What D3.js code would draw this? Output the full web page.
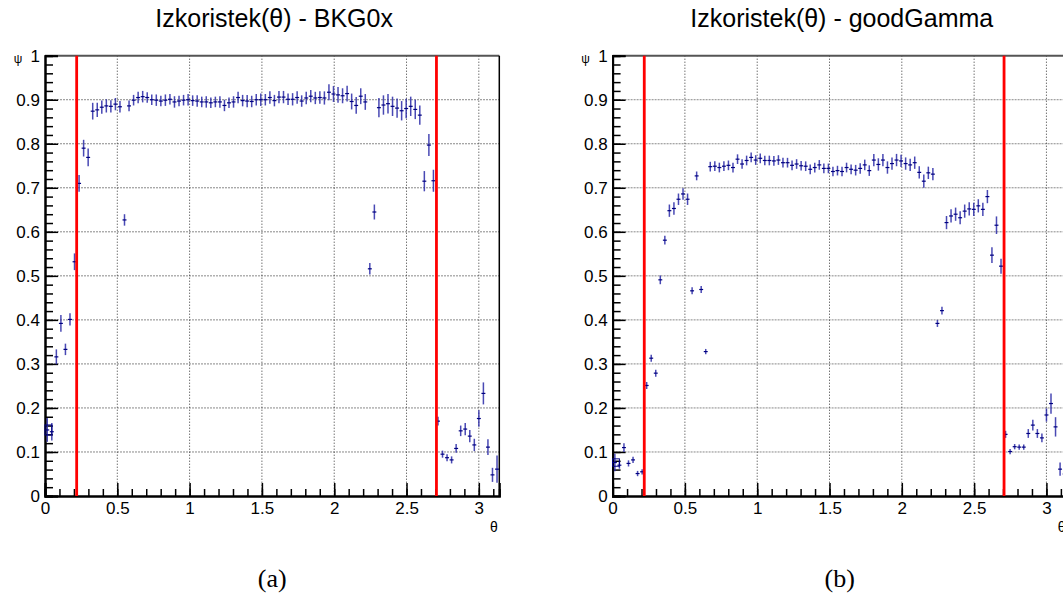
<head>
  <script src="https://d3js.org/d3.v7.min.js"></script>
  <style>
    body { margin: 0; background: #fff; }
    text { font-family: "Liberation Sans", Arial, sans-serif; }
  </style>
</head>
<body>
<script>
const nBins = 100;
const cutLines = [0.219, 2.707];
const xTickLabels = ['0', '0.5', '1', '1.5', '2', '2.5', '3'];
const xTickValues = [0, 0.5, 1, 1.5, 2, 2.5, 3];
const yTickLabels = ['0', '0.1', '0.2', '0.3', '0.4', '0.5', '0.6', '0.7', '0.8', '0.9', '1'];
const yTickValues = [0, 0.1, 0.2, 0.3, 0.4, 0.5, 0.6, 0.7, 0.8, 0.9, 1];
const titles = ['Izkoristek(\u03b8) - BKG0x', 'Izkoristek(\u03b8) - goodGamma'];
const captions = ['(a)', '(b)'];

const bkgVals = [0.150, 0.146, 0.316, 0.392, 0.333, 0.401, 0.532, 0.710, 0.790, 0.769,
  0.874, 0.877, 0.883, 0.886, 0.885, 0.890, 0.884, 0.627, 0.886, 0.899,
  0.905, 0.907, 0.905, 0.900, 0.899, 0.897, 0.899, 0.901, 0.895, 0.897,
  0.899, 0.900, 0.898, 0.897, 0.895, 0.895, 0.893, 0.895, 0.895, 0.887,
  0.893, 0.895, 0.905, 0.898, 0.897, 0.896, 0.900, 0.900, 0.900, 0.905,
  0.898, 0.906, 0.906, 0.901, 0.901, 0.905, 0.897, 0.904, 0.908, 0.904,
  0.905, 0.904, 0.917, 0.913, 0.911, 0.909, 0.914, 0.896, 0.887, 0.908,
  0.895, 0.516, 0.645, 0.882, 0.888, 0.891, 0.885, 0.881, 0.875, 0.880,
  0.885, 0.878, 0.865, 0.715, 0.797, 0.716, 0.170, 0.095, 0.087, 0.082,
  0.108, 0.148, 0.152, 0.136, 0.116, 0.176, 0.233, 0.111, 0.048, 0.061];
const bkgErrs = [0.027, 0.020, 0.017, 0.019, 0.013, 0.014, 0.019, 0.019, 0.019, 0.020,
  0.019, 0.016, 0.015, 0.015, 0.014, 0.014, 0.013, 0.013, 0.012, 0.012,
  0.013, 0.013, 0.012, 0.012, 0.013, 0.012, 0.013, 0.012, 0.013, 0.012,
  0.012, 0.013, 0.012, 0.013, 0.012, 0.013, 0.012, 0.012, 0.013, 0.013,
  0.012, 0.013, 0.013, 0.013, 0.014, 0.013, 0.013, 0.014, 0.013, 0.014,
  0.013, 0.014, 0.014, 0.013, 0.014, 0.014, 0.013, 0.014, 0.014, 0.014,
  0.014, 0.015, 0.018, 0.018, 0.018, 0.017, 0.018, 0.018, 0.019, 0.018,
  0.018, 0.013, 0.017, 0.022, 0.022, 0.022, 0.022, 0.022, 0.022, 0.022,
  0.022, 0.022, 0.022, 0.023, 0.025, 0.025, 0.010, 0.008, 0.008, 0.008,
  0.010, 0.012, 0.014, 0.014, 0.014, 0.019, 0.025, 0.018, 0.016, 0.031];

const gammaVals = [0.076, 0.070, 0.110, 0.074, 0.082, 0.051, 0.055, 0.251, 0.313, 0.279,
  0.491, 0.581, 0.648, 0.653, 0.674, 0.686, 0.674, 0.466, 0.727, 0.469,
  0.328, 0.748, 0.749, 0.746, 0.749, 0.751, 0.746, 0.765, 0.754, 0.762,
  0.769, 0.763, 0.767, 0.762, 0.762, 0.761, 0.763, 0.757, 0.757, 0.751,
  0.754, 0.750, 0.749, 0.742, 0.746, 0.752, 0.744, 0.744, 0.737, 0.739,
  0.737, 0.746, 0.742, 0.740, 0.744, 0.752, 0.739, 0.763, 0.753, 0.763,
  0.746, 0.755, 0.763, 0.761, 0.755, 0.752, 0.757, 0.735, 0.715, 0.734,
  0.731, 0.392, 0.421, 0.621, 0.636, 0.640, 0.632, 0.647, 0.652, 0.651,
  0.659, 0.651, 0.680, 0.547, 0.615, 0.522, 0.140, 0.101, 0.112, 0.111,
  0.111, 0.142, 0.161, 0.142, 0.132, 0.184, 0.210, 0.157, 0.061, 0.050];
const gammaErrs = [0.020, 0.008, 0.010, 0.007, 0.007, 0.006, 0.006, 0.008, 0.008, 0.008,
  0.010, 0.010, 0.014, 0.014, 0.013, 0.013, 0.013, 0.008, 0.010, 0.008,
  0.006, 0.011, 0.011, 0.011, 0.011, 0.011, 0.011, 0.011, 0.011, 0.011,
  0.011, 0.011, 0.011, 0.011, 0.011, 0.011, 0.011, 0.011, 0.011, 0.011,
  0.011, 0.011, 0.011, 0.011, 0.011, 0.011, 0.011, 0.011, 0.011, 0.011,
  0.011, 0.011, 0.011, 0.012, 0.012, 0.012, 0.012, 0.014, 0.014, 0.014,
  0.014, 0.014, 0.014, 0.014, 0.014, 0.014, 0.014, 0.014, 0.015, 0.014,
  0.014, 0.008, 0.009, 0.015, 0.015, 0.015, 0.015, 0.015, 0.015, 0.015,
  0.015, 0.015, 0.015, 0.018, 0.020, 0.017, 0.008, 0.006, 0.006, 0.006,
  0.006, 0.010, 0.012, 0.010, 0.010, 0.015, 0.023, 0.022, 0.015, 0.020];

const W = 1063, H = 598;
const plotTop = 55.7, plotBottom = 496, frameW = 454.3;

const svg = d3.select('body').append('svg')
  .attr('width', W).attr('height', H);

function drawPanel(left, vals, errs, title, caption) {
  const x = d3.scaleLinear().domain([0, Math.PI]).range([left, left + frameW]);
  const y = d3.scaleLinear().domain([0, 1]).range([plotBottom, plotTop]);
  const g = svg.append('g');
  const binW = Math.PI / nBins;

  // grid
  g.selectAll('.hgrid').data(yTickValues.slice(1, -1)).enter().append('line')
    .attr('x1', left).attr('x2', left + frameW)
    .attr('y1', d => y(d)).attr('y2', d => y(d))
    .style('stroke', '#888').style('stroke-dasharray', '2,1');
  g.selectAll('.vgrid').data(xTickValues.slice(1)).enter().append('line')
    .attr('x1', d => x(d)).attr('x2', d => x(d))
    .attr('y1', plotTop).attr('y2', plotBottom)
    .style('stroke', '#333').style('stroke-dasharray', '1,2');

  // frame top / right
  g.append('line').attr('x1', left).attr('x2', left + frameW).attr('y1', plotTop).attr('y2', plotTop)
    .style('stroke', '#555').style('stroke-width', 2);
  g.append('line').attr('x1', left + frameW).attr('x2', left + frameW).attr('y1', plotTop).attr('y2', plotBottom)
    .style('stroke', '#000').style('stroke-width', 1.5);

  // axes
  const yMinor = d3.range(0, 51).map(i => i / 50);
  const xMinor = d3.range(0, 32).map(i => i / 10);
  g.append('g').attr('transform', `translate(${left},0)`)
    .call(d3.axisLeft(y).tickValues(yMinor).tickSize(-8).tickFormat(''));
  g.append('g').attr('transform', `translate(${left},0)`)
    .call(d3.axisLeft(y).tickValues(yTickValues).tickSize(-13).tickPadding(5)
      .tickFormat((d, i) => yTickLabels[i]));
  g.append('g').attr('transform', `translate(0,${plotBottom})`)
    .call(d3.axisBottom(x).tickValues(xMinor).tickSize(-7).tickFormat(''));
  g.append('g').attr('transform', `translate(0,${plotBottom})`)
    .call(d3.axisBottom(x).tickValues(xTickValues).tickSize(-13).tickPadding(5.5)
      .tickFormat((d, i) => xTickLabels[i]));
  g.selectAll('.domain').style('stroke', '#000').style('stroke-width', 2);
  g.selectAll('.tick line').style('stroke', '#000').style('stroke-width', 1.5);
  g.selectAll('.tick text').style('font-size', '17px').style('fill', '#000')
    .style('font-family', '"Liberation Sans", Arial, sans-serif');

  // error bars
  const pts = vals.map((v, i) => ({ c: (i + 0.5) * binW, v: v, e: errs[i] }));
  g.selectAll('.ev').data(pts).enter().append('line')
    .attr('x1', d => x(d.c)).attr('x2', d => x(d.c))
    .attr('y1', d => y(d.v - d.e)).attr('y2', d => y(d.v + d.e))
    .style('stroke', '#2a2aa8').style('stroke-width', 1.5).style('opacity', 0.85);
  g.selectAll('.eh').data(pts).enter().append('line')
    .attr('x1', d => x(d.c - binW / 2) + 0.3).attr('x2', d => x(d.c + binW / 2) - 0.3)
    .attr('y1', d => y(d.v)).attr('y2', d => y(d.v))
    .style('stroke', '#000080').style('stroke-width', 1.2);
  // odd little box on first bin
  const b0 = pts[0];
  const boxE = b0.e * 0.42;
  g.append('rect')
    .attr('x', x(0)).attr('y', y(b0.v + boxE))
    .attr('width', x(1.5 * binW) - x(0)).attr('height', y(b0.v - boxE) - y(b0.v + boxE))
    .style('fill', 'none').style('stroke', '#000080').style('stroke-width', 1);

  // cut lines
  g.selectAll('.cut').data(cutLines).enter().append('line')
    .attr('x1', d => x(d)).attr('x2', d => x(d))
    .attr('y1', y(0)).attr('y2', y(1))
    .style('stroke', '#ff0000').style('stroke-width', 2.8);

  // labels
  svg.append('text').attr('x', left + frameW / 2 + 2).attr('y', 27)
    .attr('text-anchor', 'middle').style('font-size', '25px').text(title);
  svg.append('text').attr('x', left - 27).attr('y', 63)
    .attr('text-anchor', 'middle').style('font-size', '12px').text('\u03c8');
  svg.append('text').attr('x', left + 449).attr('y', 532)
    .attr('text-anchor', 'middle').style('font-size', '14px').text('\u03b8');
  svg.append('text').attr('x', left + frameW / 2).attr('y', 587)
    .attr('text-anchor', 'middle')
    .style('font-family', '"Liberation Serif", "DejaVu Serif", serif')
    .style('font-size', '26px').text(caption);
}

drawPanel(45, bkgVals, bkgErrs, titles[0], captions[0]);
drawPanel(612.6, gammaVals, gammaErrs, titles[1], captions[1]);
</script>
</body>
